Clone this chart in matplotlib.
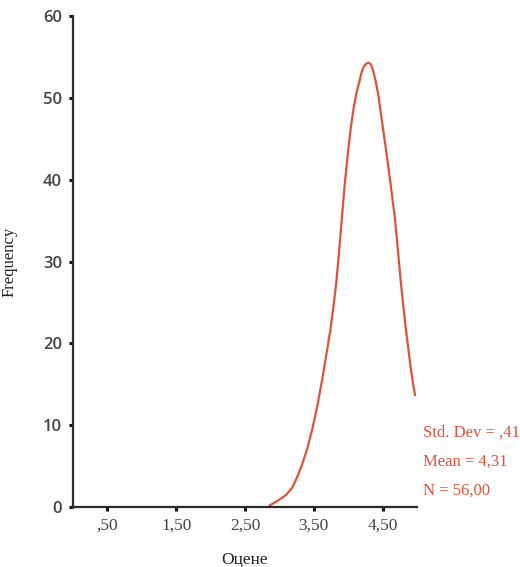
import matplotlib
matplotlib.use("Agg")
import matplotlib.pyplot as plt

# Values
curve_x = [2.86, 3.00, 3.10, 3.19, 3.26, 3.33, 3.40, 3.48, 3.55, 3.62, 3.68,
           3.74, 3.79, 3.83, 3.87, 3.91, 3.95, 4.00, 4.04, 4.08, 4.12, 4.16,
           4.19, 4.22, 4.25, 4.29, 4.33, 4.36, 4.40, 4.44, 4.48, 4.52, 4.57,
           4.62, 4.68, 4.72, 4.76, 4.80, 4.84, 4.88, 4.91, 4.94, 4.97]
curve_y = [0.2, 0.9, 1.5, 2.4, 3.7, 5.2, 7.0, 9.6, 12.3, 15.5, 18.5,
           21.6, 24.8, 27.7, 31.5, 35.5, 39.5, 43.6, 46.5, 48.8, 50.6, 51.9,
           53.0, 53.7, 54.1, 54.3, 54.1, 53.4, 52.0, 50.2, 47.8, 45.4, 42.4,
           39.2, 35.2, 31.6, 27.9, 24.6, 21.6, 18.9, 16.9, 15.2, 13.7]

x_ticks = [0.5, 1.5, 2.5, 3.5, 4.5]
x_tick_labels = [",50", "1,50", "2,50", "3,50", "4,50"]
y_ticks = [0, 10, 20, 30, 40, 50, 60]
stats_lines = ["Std. Dev = ,41", "Mean = 4,31", "N = 56,00"]

red = "#e4503a"
dark = "#2b2b2b"
serif = ["Liberation Serif", "DejaVu Serif"]

fig = plt.figure(figsize=(5.2, 5.67), dpi=100)
ax = fig.add_axes([73 / 520, 1 - 507 / 567, (417 - 73) / 520, (507 - 16) / 567])

ax.plot(curve_x, curve_y, color=red, lw=1.6, solid_joinstyle="round")

ax.set_xlim(0, 5)
ax.set_ylim(0, 60)
ax.set_xticks(x_ticks)
ax.set_xticklabels(x_tick_labels, family=serif, fontsize=12.5, color="#444444")
ax.set_yticks(y_ticks)
ax.set_yticklabels([str(v) for v in y_ticks], family=["Open Sans", "DejaVu Sans"],
                   fontsize=12, fontweight="semibold", color="#444444")
ax.tick_params(axis="both", direction="out", length=3, width=2.2, color="#111111")
ax.tick_params(axis="x", pad=5)
ax.tick_params(axis="y", pad=5)

for s in ["top", "right"]:
    ax.spines[s].set_visible(False)
for s in ["left", "bottom"]:
    ax.spines[s].set_linewidth(1.6)
    ax.spines[s].set_color(dark)

ax.set_xlabel("Оцене", family=serif, fontsize=12.5, color="#222222")
ax.xaxis.set_label_coords((245 - 73) / 344, -(552 - 507) / 491)
ax.set_ylabel("Frequency", family=serif, fontsize=12, color="#222222")
ax.yaxis.set_label_coords(-(73 - 18) / 344, 0.5)

ys_px = [433, 462, 491]
for line, ypx in zip(stats_lines, ys_px):
    fig.text(423 / 520, 1 - ypx / 567, line, color=red, family=serif,
             fontsize=12, ha="left", va="center")

fig.savefig("out.png", dpi=100, facecolor="white")
